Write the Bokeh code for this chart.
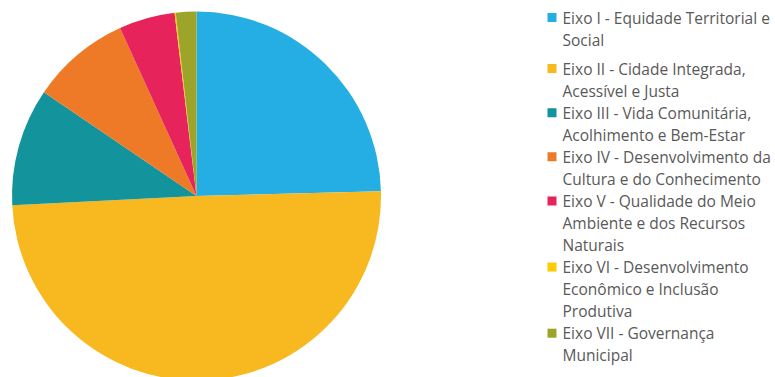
import numpy as np
from bokeh.plotting import figure
from bokeh.models import Range1d, ColumnDataSource
from bokeh.core.properties import value
from bokeh.embed import file_html
from bokeh.resources import INLINE

# ---- data ----
categories = [
    "Eixo I - Equidade Territorial e Social",
    "Eixo II - Cidade Integrada, Acessível e Justa",
    "Eixo III - Vida Comunitária, Acolhimento e Bem-Estar",
    "Eixo IV - Desenvolvimento da Cultura e do Conhecimento",
    "Eixo V - Qualidade do Meio Ambiente e dos Recursos Naturais",
    "Eixo VI - Desenvolvimento Econômico e Inclusão Produtiva",
    "Eixo VII - Governança Municipal",
]
legend_lines = [
    ["Eixo I - Equidade Territorial e", "Social"],
    ["Eixo II - Cidade Integrada,", "Acessível e Justa"],
    ["Eixo III - Vida Comunitária,", "Acolhimento e Bem-Estar"],
    ["Eixo IV - Desenvolvimento da", "Cultura e do Conhecimento"],
    ["Eixo V - Qualidade do Meio", "Ambiente e dos Recursos", "Naturais"],
    ["Eixo VI - Desenvolvimento", "Econômico e Inclusão", "Produtiva"],
    ["Eixo VII - Governança", "Municipal"],
]
shares = [24.6, 49.6, 10.3, 8.7, 4.9, 0.1, 1.8]
colors = ["#25AEE4", "#F8B81F", "#13939B", "#EE7A27", "#E6245B", "#FFCB05", "#9CA52A"]

# ---- layout ----
W, H = 775, 377
p = figure(width=W, height=H, x_range=Range1d(0, W), y_range=Range1d(0, H),
           output_backend="svg", toolbar_location=None, min_border=0)
p.xaxis.visible = False
p.yaxis.visible = False
p.grid.visible = False
p.outline_line_color = None

cx, cy, r = 196, 181.5, 184.5
vals = np.array(shares, dtype=float)
frac = vals / vals.sum()
cum = np.concatenate([[0], np.cumsum(frac)])
start = np.pi / 2 - cum[:-1] * 2 * np.pi
end = np.pi / 2 - cum[1:] * 2 * np.pi
src = ColumnDataSource(dict(start=start, end=end, color=colors, cat=categories))
p.wedge(x=cx, y=cy, radius=r, start_angle="start", end_angle="end",
        direction="clock", fill_color="color", line_color=None, source=src)

# legend (manual)
line_h = 22.05
top = H - 17
sq_x, tx = 551.5, 562
xs, ys, texts = [], [], []
sqx, sqy = [], []
idx = 0
for i, lines in enumerate(legend_lines):
    extra = 7 if i > 0 else 0
    for j, t in enumerate(lines):
        y = top - idx * line_h - extra
        if j == 0:
            sqx.append(sq_x)
            sqy.append(y)
        xs.append(tx)
        ys.append(y)
        texts.append(t)
        idx += 1

p.rect(x=sqx, y=sqy, width=9, height=9, fill_color=colors, line_color=None)
p.text(x=xs, y=ys, text=texts, text_font=value("Open Sans"), text_font_size="15.5px",
       text_color="#595959", text_baseline="middle", text_align="left")

open("out.html", "w").write(file_html(p, INLINE))
